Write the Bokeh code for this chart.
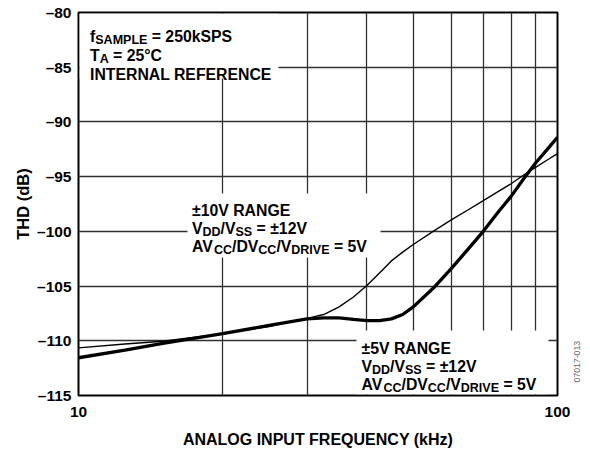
import math
from bokeh.plotting import figure
from bokeh.models import FixedTicker, Label, BoxAnnotation, LinearAxis
from bokeh.embed import file_html
from bokeh.resources import INLINE

# ---------------- data ----------------
freq_khz = [10, 12.5, 15, 20, 25, 30, 32.5, 35, 37.5, 40, 42.5, 45, 47.5, 50,
            55, 60, 65, 70, 75, 80, 85, 90, 95, 100]
thd_10v_range = [-110.65, -110.3, -110.04, -109.35, -108.7, -107.95, -107.6, -106.9, -106.0, -104.95,
                 -103.8, -102.7, -101.9, -101.2, -100.0, -98.95, -98.05, -97.2, -96.4, -95.65,
                 -94.85, -94.15, -93.5, -92.9]
thd_5v_range = [-111.55, -110.86, -110.23, -109.35, -108.6, -108.0, -107.9, -107.9, -108.05, -108.15,
                -108.15, -108.0, -107.6, -106.9, -105.2, -103.4, -101.65, -100.0, -98.3, -96.8,
                -95.2, -93.75, -92.55, -91.4]

y_ticks = [-115, -110, -105, -100, -95, -90, -85, -80]
y_tick_labels = ["\u2013115", "\u2013110", "\u2013105", "\u2013100", "\u201395", "\u201390", "\u201385", "\u201380"]
x_ticks = [10, 100]
x_tick_labels = ["10", "100"]
x_grid_lines = [20, 30, 40, 50, 60, 70, 80, 90]
figure_code = "07017-013"

# ---------------- layout ----------------
W, H = 588, 454
BL, BT, BR, BB = 78, 12, 31, 59
FONT = "Liberation Sans"
MAIN = 15.8
SUB = 12.5

p = figure(width=W, height=H, x_axis_type="log", x_range=(10, 100), y_range=(-115, -80),
           output_backend="svg", toolbar_location=None,
           min_border_left=BL, min_border_top=BT, min_border_right=BR, min_border_bottom=BB)
p.background_fill_color = "white"
p.border_fill_color = "white"
p.outline_line_color = "black"
p.outline_line_width = 2

# ---------------- annotation helpers (canvas pixel -> data) ----------------
FX0, FY0 = BL, BT
FW, FH = W - BL - BR, H - BT - BB

def xd(px):
    return 10 ** (1 + (px - FX0) / FW)

def yd(py):
    return -80 - (py - FY0) / FH * 35

# right-hand axis that only carries the figure code as a rotated label
code_pos = round(yd(382), 2)
code_axis = LinearAxis(ticker=FixedTicker(ticks=[code_pos]),
                       major_label_overrides={code_pos: figure_code})
p.add_layout(code_axis, "right")

for ax in (p.xaxis[0], p.yaxis[0], code_axis):
    ax.axis_line_color = None
    ax.major_tick_line_color = None
    ax.minor_tick_line_color = None
    ax.major_tick_out = 0
    ax.major_tick_in = 0
    ax.minor_tick_out = 0
    ax.minor_tick_in = 0
    ax.major_label_text_font = FONT
    ax.major_label_text_font_style = "bold"
    ax.major_label_text_font_size = "15.5px"
    ax.major_label_text_color = "black"
    ax.axis_label_text_font = FONT
    ax.axis_label_text_font_style = "bold"
    ax.axis_label_text_font_size = "16.5px"
    ax.axis_label_text_color = "black"

code_axis.major_label_text_font_style = "normal"
code_axis.major_label_text_font_size = "8.7px"
code_axis.major_label_text_color = "#666666"
code_axis.major_label_orientation = math.pi / 2
code_axis.major_label_standoff = 20

p.xaxis[0].ticker = FixedTicker(ticks=x_ticks)
p.xaxis[0].major_label_overrides = dict(zip(x_ticks, x_tick_labels))
p.xaxis[0].major_label_standoff = 11
p.xaxis[0].axis_label = "ANALOG INPUT FREQUENCY (kHz)"
p.xaxis[0].axis_label_text_font_size = "16px"
p.xaxis[0].axis_label_standoff = 11

p.yaxis[0].ticker = FixedTicker(ticks=y_ticks)
p.yaxis[0].major_label_overrides = dict(zip(y_ticks, y_tick_labels))
p.yaxis[0].major_label_standoff = 7
p.yaxis[0].axis_label = "THD (dB)"
p.yaxis[0].axis_label_standoff = 2

p.xgrid.ticker = FixedTicker(ticks=x_grid_lines)
p.ygrid.ticker = FixedTicker(ticks=y_ticks)
for g in (p.xgrid, p.ygrid):
    g.grid_line_color = "#303030"
    g.grid_line_width = 1.3
    g.grid_line_alpha = 1.0

# curves
p.line(freq_khz, thd_10v_range, line_color="black", line_width=1.4)
p.line(freq_khz, thd_5v_range, line_color="black", line_width=3.3)

ARIAL_BOLD = {
    " ": 278, "=": 584, "\u00b1": 584, "\u00b0": 400, "/": 278, "(": 333, ")": 333, "-": 333,
    "0": 556, "1": 556, "2": 556, "3": 556, "4": 556, "5": 556, "6": 556, "7": 556, "8": 556, "9": 556,
    "A": 722, "B": 722, "C": 722, "D": 722, "E": 667, "F": 611, "G": 778, "H": 722, "I": 278,
    "K": 722, "L": 611, "M": 833, "N": 722, "O": 778, "P": 667, "R": 722, "S": 667, "T": 611,
    "U": 722, "V": 667, "f": 333, "k": 556,
}

def text_width(s, size):
    return sum(ARIAL_BOLD.get(c, 600) for c in s) * size / 1000.0

def white_box(x0, y0, x1, y1):
    p.add_layout(BoxAnnotation(left=xd(x0), right=xd(x1), top=yd(y0), bottom=yd(y1),
                               fill_color="white", fill_alpha=1.0, line_color=None))

def put_line(x0, base, segs):
    x = x0
    for txt, sub in segs:
        size = SUB if sub else MAIN
        yb = base + (3.5 if sub else 0)
        lead = len(txt) - len(txt.lstrip(" "))
        x += text_width(" " * lead, size)
        body = txt.lstrip(" ")
        p.add_layout(Label(x=xd(x), y=yd(yb), text=body, text_font=FONT, text_font_style="bold",
                           text_font_size=f"{size}px", text_color="black",
                           text_align="left", text_baseline="alphabetic"))
        x += text_width(body, size)

# white backgrounds behind the annotation texts
white_box(79.2, 13.2, 278, 78)
white_box(187, 193, 380, 257)
white_box(356, 330, 548, 393.8)

# top-left conditions
put_line(89.5, 36, [("f", False), ("SAMPLE", True), (" = 250kSPS", False)])
put_line(89.5, 55, [("T", False), ("A", True), (" = 25\u00b0C", False)])
put_line(89.5, 74, [("INTERNAL REFERENCE", False)])

# +-10V range
put_line(191.5, 209.5, [("\u00b110V RANGE", False)])
put_line(191.5, 227.5, [("V", False), ("DD", True), ("/V", False), ("SS", True), (" = \u00b112V", False)])
put_line(191.5, 245.5, [("AV", False), ("CC", True), ("/DV", False), ("CC", True), ("/V", False),
                        ("DRIVE", True), (" = 5V", False)])

# +-5V range
put_line(361, 347.5, [("\u00b15V RANGE", False)])
put_line(361, 365.5, [("V", False), ("DD", True), ("/V", False), ("SS", True), (" = \u00b112V", False)])
put_line(361, 383.5, [("AV", False), ("CC", True), ("/DV", False), ("CC", True), ("/V", False),
                      ("DRIVE", True), (" = 5V", False)])

open("out.html", "w").write(file_html(p, INLINE))
